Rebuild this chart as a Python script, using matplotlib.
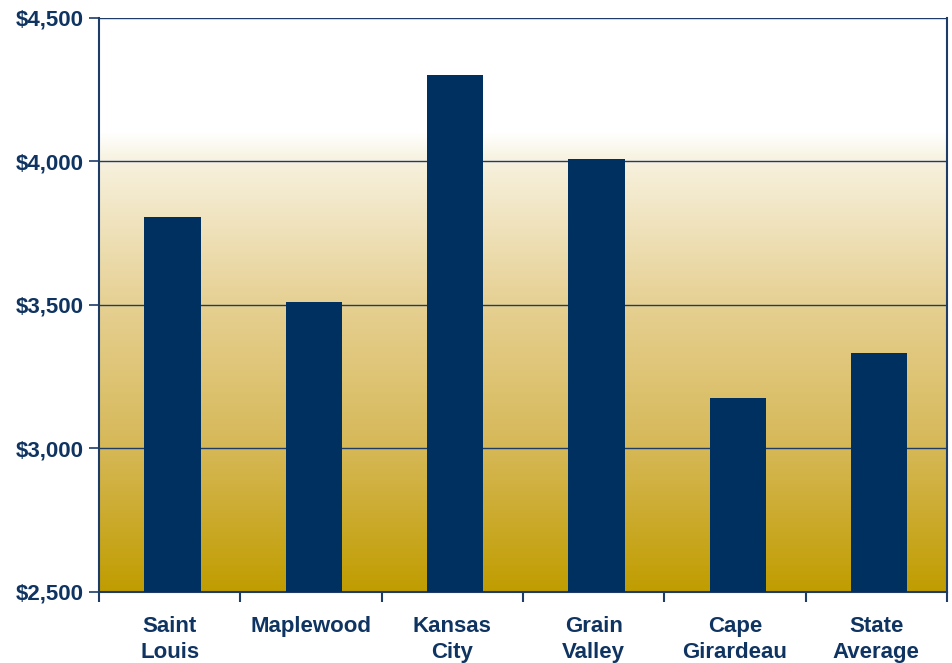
import numpy as np
import matplotlib
matplotlib.use("Agg")
import matplotlib.pyplot as plt
from matplotlib.colors import LinearSegmentedColormap

cities = ["Saint\nLouis", "Maplewood", "Kansas\nCity", "Grain\nValley", "Cape\nGirardeau", "State\nAverage"]
costs = [3805, 3510, 4302, 4008, 3177, 3333]
yticks = [2500, 3000, 3500, 4000, 4500]

navy = "#00305f"
text_col = "#0f3461"

plt.rcParams["font.family"] = ["Liberation Sans", "DejaVu Sans"]

fig = plt.figure(figsize=(9.53, 6.63), dpi=100)
ax = fig.add_axes([0.1039, 0.1071, 0.8898, 0.8658])

# gradient background: gold at the bottom fading to white near the top
grad = LinearSegmentedColormap.from_list(
    "gold",
    [(0.0, "#c09d00"), (0.25, "#d6b857"), (0.5, "#e6d092"),
     (0.75, "#f7f1de"), (0.80, "#ffffff"), (1.0, "#ffffff")],
)
ax.imshow(np.linspace(0, 1, 256).reshape(-1, 1), cmap=grad, origin="lower",
          aspect="auto", extent=(-0.5, len(cities) - 0.5, 2500, 4500), zorder=0)

x = np.arange(len(cities))
ax.bar(x + 0.02, costs, width=0.40, bottom=0, color=navy, zorder=3)

ax.set_xlim(-0.5, len(cities) - 0.5)
ax.set_ylim(2500, 4500)
ax.set_yticks(yticks)
ax.set_yticklabels(["${:,}".format(v) for v in yticks])
ax.yaxis.grid(True, color="#1d3d68", linewidth=1.0, zorder=1)
ax.set_axisbelow(True)

ax.set_xticks(x)
ax.set_xticklabels(cities, linespacing=1.35)
ax.set_xticks(np.arange(len(cities) + 1) - 0.5, minor=True)
ax.tick_params(axis="x", which="major", length=0, pad=17)
ax.tick_params(axis="x", which="minor", length=7, width=1.5, color="#1d3d68")
ax.tick_params(axis="y", length=7, width=1.2, color="#1d3d68", pad=4)

for lab in ax.get_xticklabels() + ax.get_yticklabels():
    lab.set_fontsize(16)
    lab.set_fontweight("bold")
    lab.set_color(text_col)

for side in ["left", "bottom", "right"]:
    ax.spines[side].set_color("#1d3d68")
    ax.spines[side].set_linewidth(1.5)
ax.spines["top"].set_visible(False)

fig.savefig("out.png", dpi=100)
